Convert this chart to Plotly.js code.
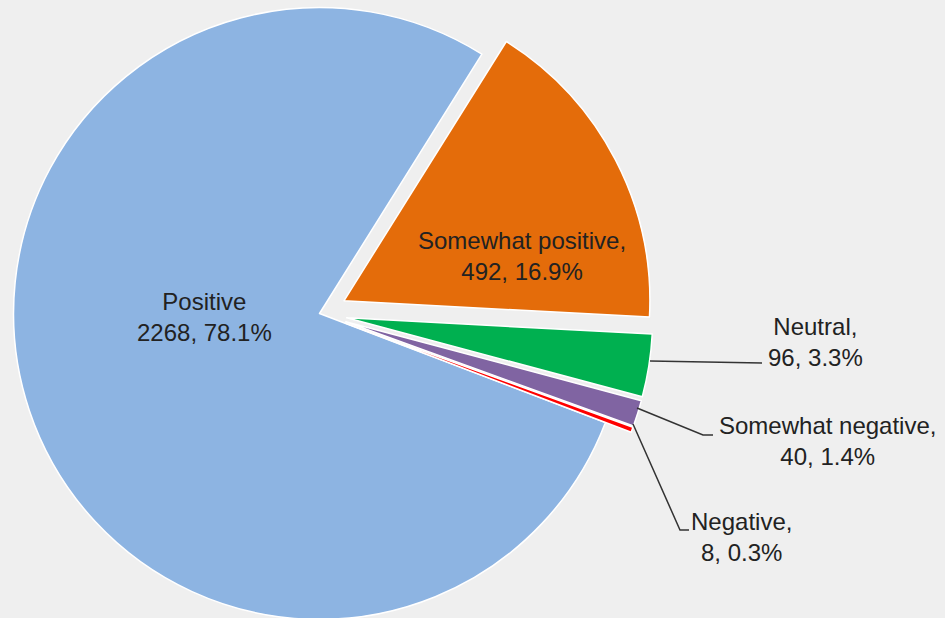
<!DOCTYPE html>
<html><head><meta charset="utf-8">
<script src="https://cdn.plot.ly/plotly-3.0.1.min.js"></script>
<style>
html,body{margin:0;padding:0;background:#efefef;overflow:hidden;width:945px;height:618px;}
#chart{position:absolute;left:-14px;top:-20px;width:959px;height:667px;}
</style>
</head><body><div id="chart"></div>
<script>
const categories = ['Positive', 'Somewhat positive', 'Neutral', 'Somewhat negative', 'Negative'];
const counts = [2268, 492, 96, 40, 8];
const sliceColors = ['#8db4e2', '#e46c0a', '#00b050', '#8064a2', '#ff0000'];
const pulls = [0, 0.09, 0.09, 0.09, 0.09];

const W = 959, H = 667, OX = 14, OY = 20;
const fx = X => (X + OX) / W;
const fy = Y => 1 - (Y + OY) / H;

const total = counts.reduce((a, b) => a + b, 0);
const pct = counts.map(v => (100 * v / total).toFixed(1) + '%');
const labelText = categories.map((c, i) =>
  (i === 0 ? c : c + ',') + '<br>' + counts[i] + ', ' + pct[i]);

// label anchor positions (page px) and leader lines
const labelPos = [[204, 317], [522, 256], [815, 342], [827, 441], [741, 537]];
const leaders = [null, null,
  [[650, 361], [762, 363]],
  [[637, 408], [703, 435], [713, 435]],
  [[633, 424], [680, 530], [689, 530]]];

const font = {family: 'Liberation Sans, Arial, sans-serif', size: 24, color: '#222222'};

const annotations = labelText.map((t, i) => ({
  text: t, x: fx(labelPos[i][0]), y: fy(labelPos[i][1]), xref: 'paper', yref: 'paper',
  xanchor: 'center', yanchor: 'middle', showarrow: false, align: 'center', font: font
}));

const shapes = leaders.filter(l => l).map(pts => ({
  type: 'path', xref: 'paper', yref: 'paper',
  path: pts.map((p, k) => (k ? 'L' : 'M') + fx(p[0]) + ',' + fy(p[1])).join(' '),
  line: {color: '#333333', width: 1.5}
}));

const data = [{
  type: 'pie', labels: categories, values: counts, sort: false, direction: 'clockwise',
  rotation: 110.9, pull: pulls, textinfo: 'none', hoverinfo: 'none',
  marker: {colors: sliceColors, line: {color: '#ffffff', width: 1.5}},
  domain: {x: [0, 667 / W], y: [0, 1]}
}];

const layout = {
  width: W, height: H, margin: {l: 0, r: 0, t: 0, b: 0},
  paper_bgcolor: '#efefef', plot_bgcolor: '#efefef', showlegend: false,
  annotations: annotations, shapes: shapes
};
Plotly.newPlot('chart', data, layout, {displayModeBar: false, staticPlot: true});
</script></body></html>
